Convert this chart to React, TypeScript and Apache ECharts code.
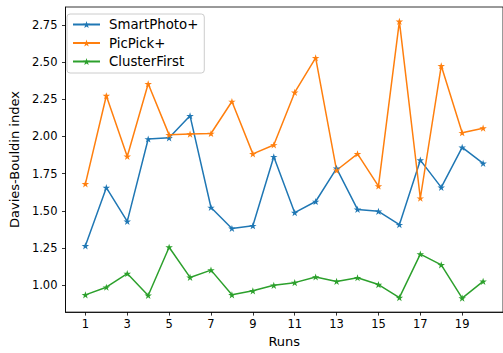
import React, { useEffect, useRef } from "react";
import * as echarts from "echarts";

const runs = [1, 2, 3, 4, 5, 6, 7, 8, 9, 10, 11, 12, 13, 14, 15, 16, 17, 18, 19, 20];
const smartPhoto = [1.265, 1.656, 1.43, 1.983, 1.991, 2.139, 1.523, 1.382, 1.4, 1.864, 1.488, 1.563, 1.786, 1.51, 1.497, 1.407, 1.841, 1.658, 1.927, 1.819];
const picPick = [1.682, 2.274, 1.866, 2.354, 2.011, 2.016, 2.02, 2.235, 1.883, 1.943, 2.296, 2.528, 1.773, 1.883, 1.667, 2.773, 1.585, 2.475, 2.025, 2.056];
const clusterFirst = [0.936, 0.987, 1.079, 0.932, 1.256, 1.053, 1.102, 0.936, 0.963, 1.0, 1.018, 1.056, 1.026, 1.051, 1.005, 0.917, 1.21, 1.137, 0.914, 1.026];
const xTicks = [1, 3, 5, 7, 9, 11, 13, 15, 17, 19];
const yTicks = [1.0, 1.25, 1.5, 1.75, 2.0, 2.25, 2.5, 2.75];

const STAR =
  "path://M0,-1 L0.224,-0.308 L0.951,-0.309 L0.362,0.118 L0.588,0.809 L0,0.381 L-0.588,0.809 L-0.362,0.118 L-0.951,-0.309 L-0.224,-0.308 Z";

const FONT = "DejaVu Sans";

function mkSeries(name: string, vals: number[], color: string) {
  return {
    name,
    type: "line",
    data: runs.map((r, i) => [r, vals[i]]),
    symbol: STAR,
    symbolSize: 7.5,
    symbolKeepAspect: true,
    showSymbol: true,
    lineStyle: { color, width: 1.5 },
    itemStyle: { color },
    emphasis: { disabled: true },
  };
}

export default function App() {
  const ref = useRef<HTMLDivElement>(null);
  useEffect(() => {
    if (!ref.current) return;
    const chart = echarts.init(ref.current, undefined, { renderer: "svg" });
    chart.setOption({
      animation: false,
      backgroundColor: "#fff",
      textStyle: { fontFamily: FONT },
      grid: {
        left: 61,
        right: -3,
        top: 7,
        bottom: 36,
        show: true,
        borderColor: "#000",
        borderWidth: 0.8,
        containLabel: false,
      },
      legend: {
        left: 67,
        top: 14,
        orient: "vertical",
        itemWidth: 27,
        itemHeight: 9,
        itemGap: 5.5,
        padding: [4, 6, 5, 5],
        backgroundColor: "rgba(255,255,255,0.8)",
        borderColor: "#ccc",
        borderWidth: 1,
        borderRadius: 3,
        textStyle: { fontFamily: FONT, fontSize: 13.3, color: "#000", padding: [0, 0, 0, 4] },
        data: ["SmartPhoto+", "PicPick+", "ClusterFirst"],
      },
      xAxis: {
        type: "value",
        min: 0.05,
        max: 20.95,
        name: "Runs",
        nameLocation: "middle",
        nameGap: 20.5,
        nameTextStyle: { fontFamily: FONT, fontSize: 13, color: "#000" },
        axisLine: { show: true, lineStyle: { color: "#000", width: 0.8 } },
        axisTick: { show: true, length: 3.5, customValues: xTicks, lineStyle: { color: "#000", width: 0.8 } },
        axisLabel: { customValues: xTicks, fontFamily: FONT, fontSize: 11.5, color: "#000", margin: 6 },
        splitLine: { show: false },
      },
      yAxis: {
        type: "value",
        min: 0.82,
        max: 2.87,
        name: "Davies-Bouldin index",
        nameLocation: "middle",
        nameGap: 34.5,
        nameTextStyle: { fontFamily: FONT, fontSize: 13, color: "#000" },
        axisLine: { show: true, lineStyle: { color: "#000", width: 0.8 } },
        axisTick: { show: true, length: 3.5, customValues: yTicks, lineStyle: { color: "#000", width: 0.8 } },
        axisLabel: {
          customValues: yTicks,
          fontFamily: FONT,
          fontSize: 11.5,
          color: "#000",
          margin: 8,
          formatter: (v: number) => v.toFixed(2),
        },
        splitLine: { show: false },
      },
      series: [
        mkSeries("SmartPhoto+", smartPhoto, "#1f77b4"),
        mkSeries("PicPick+", picPick, "#ff7f0e"),
        mkSeries("ClusterFirst", clusterFirst, "#2ca02c"),
      ],
    });
    return () => chart.dispose();
  }, []);
  return (
    <div
      ref={ref}
      style={{ position: "fixed", left: 0, top: 0, width: 503, height: 353 }}
    />
  );
}
